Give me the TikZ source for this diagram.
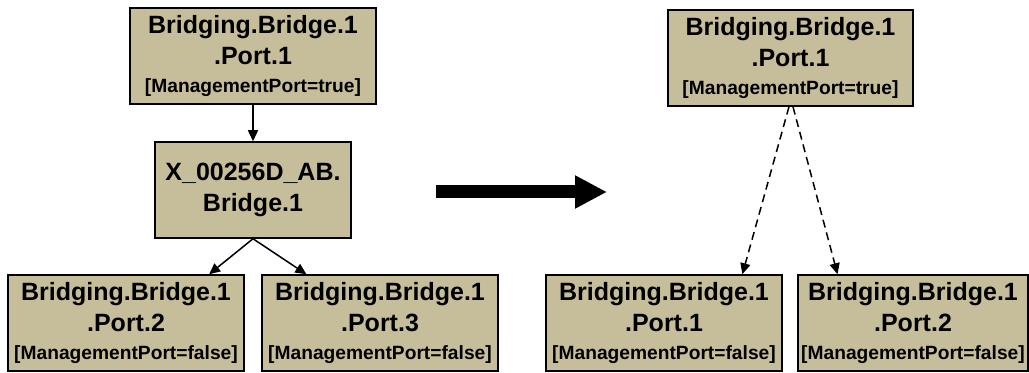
\documentclass[tikz,border=0pt]{standalone}
\usepackage{fontspec}
\setmainfont{Liberation Sans}
\usetikzlibrary{arrows.meta,calc,positioning}
\definecolor{boxtan}{RGB}{198,190,154}
\newcommand{\flagfont}{\fontsize{9.6}{11}\selectfont}

\begin{document}
\begin{tikzpicture}[x=0.5pt,y=-0.5pt,>={Triangle[length=5.5pt,width=5pt]}]
        \tikzstyle{port}=[draw,line width=0.75pt,fill=boxtan,align=center,inner sep=0pt,
            font=\bfseries\fontsize{12.5}{15.5}\selectfont,minimum height=48pt]
        \tikzstyle{link}=[->,line width=0.75pt]
        \useasboundingbox (0,0) rectangle (1029,373);

        % Before: bridge between the ports
        \node (top)[port,minimum width=123pt] at (253,56) {Bridging.Bridge.1\\.Port.1\\[-1.5pt]{\flagfont [ManagementPort=true]}};
        \node (bridge)[port,minimum width=98pt] at (253,190) {X\_00256D\_AB.\\Bridge.1};
        \node (pa)[port,minimum width=118pt] at (126,323) {Bridging.Bridge.1\\.Port.2\\[-1.5pt]{\flagfont [ManagementPort=false]}};
        \node (pb)[port,minimum width=118pt] at (380,323) {Bridging.Bridge.1\\.Port.3\\[-1.5pt]{\flagfont [ManagementPort=false]}};

        \draw[link] (top.south) -- (bridge.north);
        \draw[link] (bridge.south) -- ($(pa.north west)!0.85!(pa.north east)$);
        \draw[link] (bridge.south) -- ($(pb.north west)!0.19!(pb.north east)$);

        % --- Big arrow between them ---
        \coordinate (from) at (436,192);
        \coordinate (to) at (607,192);
        \draw[-{Triangle[length=16pt,width=15.5pt]},line width=6.5pt] (from) -- (to);

        % After: ports hang off the management port
        \node (mtop)[port,minimum width=122.5pt] at (790.5,58) {Bridging.Bridge.1\\.Port.1\\[-1.5pt]{\flagfont [ManagementPort=true]}};
        \node (ma)[port,minimum width=118pt] at (664,323) {Bridging.Bridge.1\\.Port.1\\[-1.5pt]{\flagfont [ManagementPort=false]}};
        \node (mb)[port,minimum width=115pt] at (913,323) {Bridging.Bridge.1\\.Port.2\\[-1.5pt]{\flagfont [ManagementPort=false]}};

        \draw[link,dash pattern=on 4pt off 2.5pt] ($(mtop.south)+(-1.5,0)$) -- ($(ma.north west)!0.83!(ma.north east)$);
        \draw[link,dash pattern=on 4pt off 2.5pt] ($(mtop.south)+(2.5,0)$) -- ($(mb.north west)!0.174!(mb.north east)$);
    \end{tikzpicture}
\end{document}
